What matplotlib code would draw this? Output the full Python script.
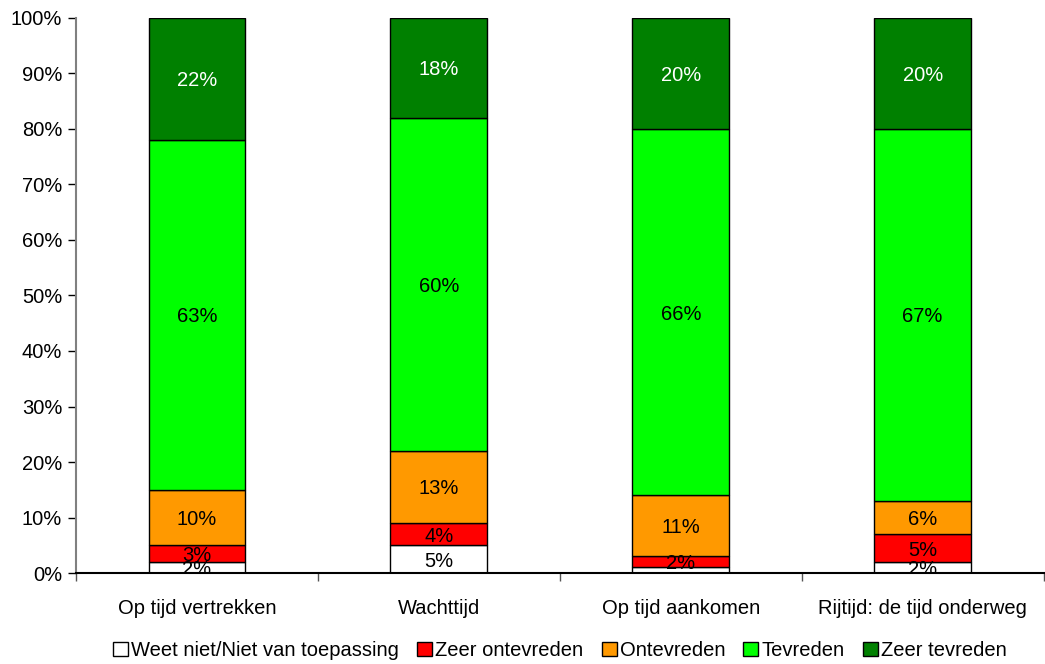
import numpy as np
import matplotlib
matplotlib.use('Agg')
import matplotlib.pyplot as plt
from matplotlib.ticker import FixedLocator

plt.rcParams['font.family'] = ['Liberation Sans', 'DejaVu Sans']

categories = ['Op tijd vertrekken', 'Wachttijd', 'Op tijd aankomen', 'Rijtijd: de tijd onderweg']
series = ['Weet niet/Niet van toepassing', 'Zeer ontevreden', 'Ontevreden', 'Tevreden', 'Zeer tevreden']
weet_niet = [2, 5, 1, 2]
zeer_ontevreden = [3, 4, 2, 5]
ontevreden = [10, 13, 11, 6]
tevreden = [63, 60, 66, 67]
zeer_tevreden = [22, 18, 20, 20]
# which segment labels are shown (the 1% of the third bar has no label)
show_weet_niet = [True, True, False, True]

colors = ['#FFFFFF', '#FF0000', '#FF9900', '#00FF00', '#008000']
text_colors = ['black', 'black', 'black', 'black', 'white']

values = [weet_niet, zeer_ontevreden, ontevreden, tevreden, zeer_tevreden]

fig = plt.figure(figsize=(10.45, 6.64), dpi=100)
ax = fig.add_axes([0.0727, 0.137, 0.926, 0.836])

x = np.arange(len(categories))
bottom = np.zeros(len(categories))
for i, (name, vals) in enumerate(zip(series, values)):
    vals = np.array(vals, dtype=float)
    ax.bar(x, vals, 0.4, bottom=bottom, color=colors[i], edgecolor='black',
           linewidth=1, label=name, zorder=2)
    for j in range(len(categories)):
        if i == 0 and not show_weet_niet[j]:
            continue
        t = ax.text(x[j], bottom[j] + vals[j] / 2, '%d%%' % vals[j],
                    ha='center', va='center_baseline', fontsize=14.5,
                    color=text_colors[i], zorder=3)
        t.set_clip_on(True)
    bottom += vals

ax.set_xlim(-0.5, len(categories) - 0.5)
ax.set_ylim(0, 100)
ax.set_yticks(np.arange(0, 101, 10))
ax.set_yticklabels(['%d%%' % v for v in range(0, 101, 10)], fontsize=14.5)
ax.set_xticks(x)
ax.set_xticklabels(categories, fontsize=14.5)
ax.tick_params(axis='x', length=0, pad=19)
ax.xaxis.set_minor_locator(FixedLocator(np.arange(-0.5, len(categories), 1.0)))
ax.tick_params(axis='x', which='minor', length=6, width=1, color='#555555')
ax.tick_params(axis='y', length=6, width=1, color='black', pad=4)

for s in ['top', 'right']:
    ax.spines[s].set_visible(False)
ax.spines['left'].set_color('#808080')
ax.spines['left'].set_linewidth(1.5)
ax.spines['bottom'].set_color('black')
ax.spines['bottom'].set_linewidth(1.5)
ax.spines['bottom'].set_zorder(4)

ax.legend(loc='upper center', bbox_to_anchor=(0.5, -0.108), ncol=5, frameon=False,
          fontsize=14.5, handlelength=0.75, handleheight=0.75, handletextpad=0.15,
          columnspacing=0.9, borderaxespad=0)

fig.savefig('out.png', dpi=100)
